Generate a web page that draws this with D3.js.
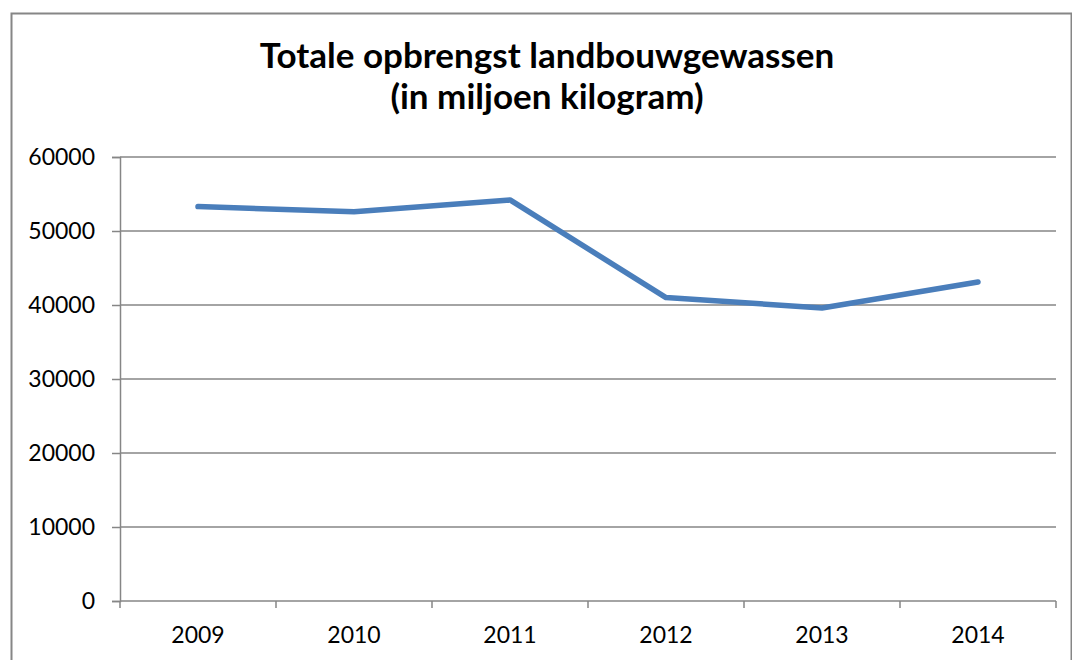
<!DOCTYPE html>
<html>
<head>
<meta charset="utf-8">
<script src="https://cdn.jsdelivr.net/npm/d3@7"></script>
<style>
  body { margin: 0; background: #fff; }
  svg { display: block; font-family: Lato, "Open Sans", sans-serif; }
</style>
</head>
<body>
<svg id="chart" width="1072" height="660"></svg>
<script>
const years = ["2009", "2010", "2011", "2012", "2013", "2014"];
const opbrengst = [53300, 52600, 54200, 41000, 39600, 43100];
const yTicks = [0, 10000, 20000, 30000, 40000, 50000, 60000];
const titleLines = ["Totale opbrengst landbouwgewassen", "(in miljoen kilogram)"];

const svg = d3.select("#chart");
const margin = { top: 157, right: 16, bottom: 59, left: 120 };
const width = 1072 - margin.left - margin.right;
const height = 660 - margin.top - margin.bottom;

// outer chart border (bottom falls off the picture)
svg.append("rect")
  .attr("x", 11.5).attr("y", 13.5)
  .attr("width", 1060).attr("height", 700)
  .attr("fill", "none")
  .attr("stroke", "#868686")
  .attr("stroke-width", 2);

svg.append("text")
  .attr("text-anchor", "middle")
  .attr("font-weight", "bold")
  .attr("font-size", 35)
  .attr("fill", "#000")
  .selectAll("tspan")
  .data(titleLines)
  .enter()
  .append("tspan")
  .attr("x", 547)
  .attr("y", (d, i) => 68 + i * 41)
  .text((d) => d);

const g = svg.append("g").attr("transform", `translate(${margin.left},${margin.top})`);

const x = d3.scaleBand().domain(years).range([0, width]);
const y = d3.scaleLinear().domain([0, 60000]).range([height, 0]);

// gridlines
g.selectAll("line.grid")
  .data(yTicks.filter((d) => d > 0))
  .enter()
  .append("line")
  .attr("class", "grid")
  .attr("x1", 0).attr("x2", width)
  .attr("y1", (d) => y(d)).attr("y2", (d) => y(d))
  .attr("stroke", "#868686")
  .attr("stroke-width", 1.5);

// y axis
const yAxis = g.append("g")
  .call(d3.axisLeft(y).tickValues(yTicks).tickSize(8).tickPadding(17).tickFormat(d3.format("d")));
yAxis.select(".domain").attr("stroke", "#868686").attr("stroke-width", 1.5);
yAxis.selectAll(".tick line").attr("stroke", "#868686").attr("stroke-width", 1.5);
yAxis.selectAll(".tick text").attr("font-size", 23).attr("fill", "#000").attr("font-family", "Lato, sans-serif");

// x axis with ticks between categories
const xAxis = g.append("g").attr("transform", `translate(0,${height})`);
xAxis.append("line")
  .attr("x1", 0).attr("x2", width)
  .attr("stroke", "#868686").attr("stroke-width", 1.5);
const edges = years.map((d) => x(d)).concat([width]);
xAxis.selectAll("line.tick")
  .data(edges)
  .enter()
  .append("line")
  .attr("class", "tick")
  .attr("x1", (d) => d).attr("x2", (d) => d)
  .attr("y1", 0).attr("y2", 7)
  .attr("stroke", "#868686").attr("stroke-width", 1.5);
xAxis.selectAll("text")
  .data(years)
  .enter()
  .append("text")
  .attr("x", (d) => x(d) + x.bandwidth() / 2)
  .attr("y", 42)
  .attr("text-anchor", "middle")
  .attr("font-size", 23)
  .attr("fill", "#000")
  .text((d) => d);

// data line
const line = d3.line()
  .x((d, i) => x(years[i]) + x.bandwidth() / 2)
  .y((d) => y(d));

g.append("path")
  .datum(opbrengst)
  .attr("d", line)
  .attr("fill", "none")
  .attr("stroke", "#4a7ebb")
  .attr("stroke-width", 5.5)
  .attr("stroke-linecap", "round")
  .attr("stroke-linejoin", "round");
</script>
</body>
</html>
